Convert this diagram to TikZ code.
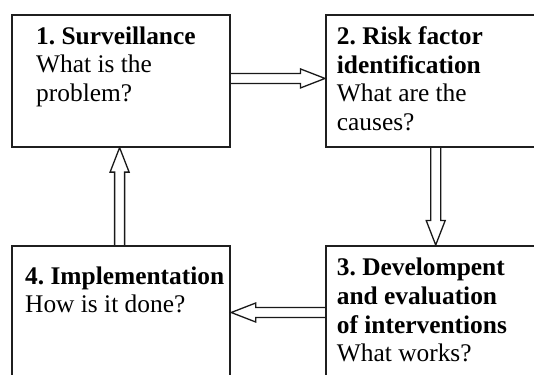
\documentclass[tikz,border=0pt]{standalone}
\usepackage{fontspec}
\setmainfont{Liberation Serif}
\usetikzlibrary{calc}
\frenchspacing
\tikzset{
  boxshape/.style={draw=black!88, line width=1.9pt, rectangle, inner sep=0pt, anchor=north west},
  boxtext/.style={anchor=base west, align=left, inner sep=0pt, font=\fontsize{25.4}{28.7}\selectfont},
  hollow/.style={draw=black!90, line width=1.3pt, line join=miter}
}
\newcommand\hArrow[2]{%
  \draw[hollow]
    ($(#1)!5pt!90:(#2)$) --
    ($($(#2)!24.5pt!(#1)$)!5pt!90:(#2)$) --
    ($($(#2)!24.5pt!(#1)$)!9.5pt!90:(#2)$) --
    (#2) --
    ($($(#2)!24.5pt!(#1)$)!9.5pt!-90:(#2)$) --
    ($($(#2)!24.5pt!(#1)$)!5pt!-90:(#2)$) --
    ($(#1)!5pt!-90:(#2)$);
}
\begin{document}
\begin{tikzpicture}[x=1pt,y=-1pt]
\useasboundingbox (0,0) rectangle (534,374);
\clip (0,0) rectangle (534,374);
\fill[white] (0,0) rectangle (534,374);
% boxes
\node[boxshape, minimum width=218.3pt, minimum height=131.4pt] (b1) at (11,14.3) {};
\node[boxshape, minimum width=230pt, minimum height=131.4pt] (b2) at (325,14.3) {};
\node[boxshape, minimum width=230pt, minimum height=150pt] (b3) at (325,245) {};
\node[boxshape, minimum width=218.3pt, minimum height=150pt] (b4) at (11,245) {};
% texts (anchored at the baseline of their last line)
\node[boxtext] (t1) at (36,101.7) {\textbf{1. Surveillance}\\What is the\\problem?};
\node[boxtext] (t2) at (336.7,130.7) {\textbf{2. Risk factor}\\\textbf{identification}\\What are the\\causes?};
\node[boxtext] (t3) at (336.7,361.7) {\textbf{3. Develompent}\\\textbf{and evaluation}\\\textbf{of interventions}\\What works?};
\node[boxtext] (t4) at (25,312.7) {\textbf{4. Implementation}\\How is it done?};
% connector end points
\coordinate (s12) at ([yshift=2.5pt]b1.east);
\coordinate (e12) at (s12 -| b2.west);
\coordinate (s23) at ([xshift=110.7pt]b2.south west);
\coordinate (e23) at (s23 |- b3.north);
\coordinate (s34) at ([yshift=-67.5pt]b3.north west);
\coordinate (e34) at (s34 -| b4.east);
\coordinate (s41) at ([xshift=-1.5pt]b4.north);
\coordinate (e41) at (s41 |- b1.south);
% connectors
\hArrow{s12}{e12}
\hArrow{s23}{e23}
\hArrow{s34}{e34}
\hArrow{s41}{e41}
\end{tikzpicture}
\end{document}
